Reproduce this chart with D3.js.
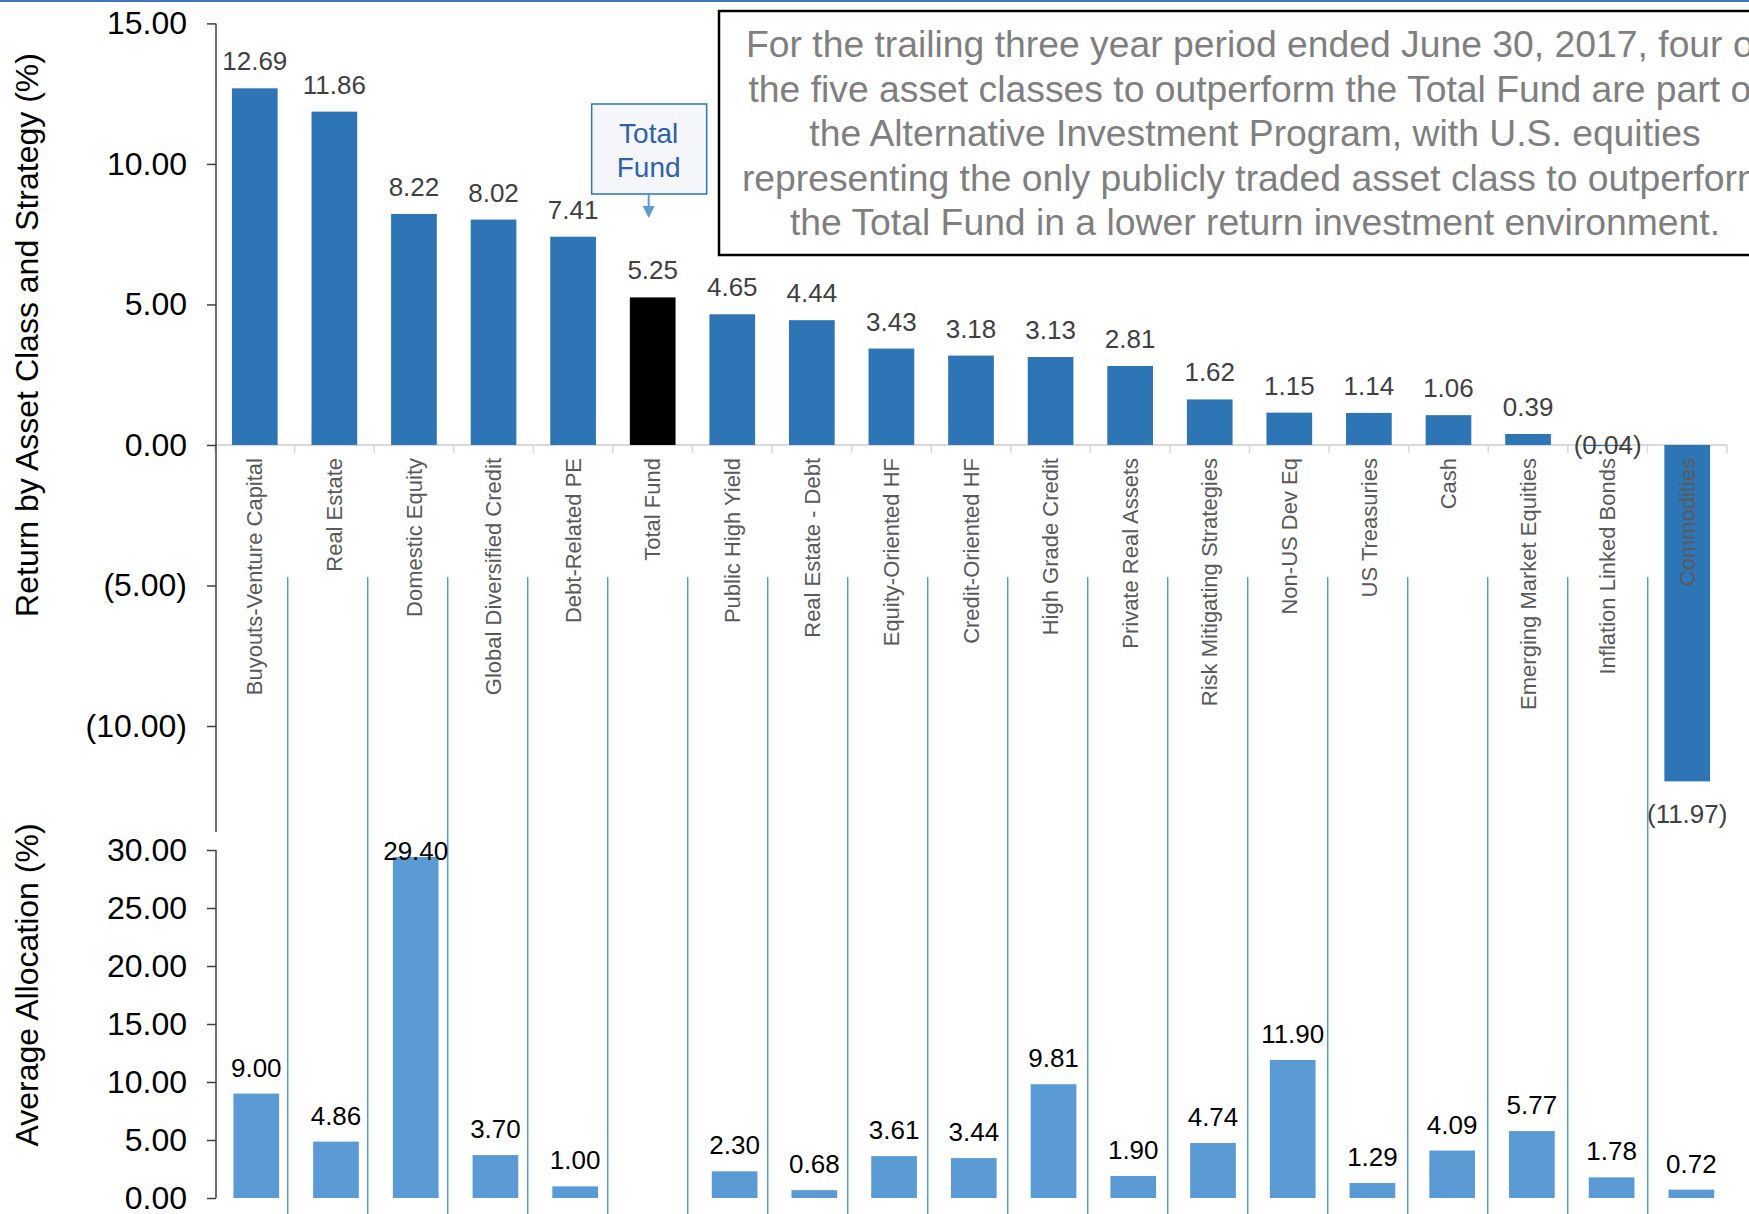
<!DOCTYPE html>
<html>
<head>
<meta charset="utf-8">
<script src="https://cdn.jsdelivr.net/npm/d3@7"></script>
<style>
  body { margin: 0; background: #fff; }
  svg { display: block; font-family: "Liberation Sans", Arial, sans-serif; }
</style>
</head>
<body>
<svg id="chart" width="1749" height="1214"></svg>
<script>
const categories = ["Buyouts-Venture Capital", "Real Estate", "Domestic Equity", "Global Diversified Credit",
  "Debt-Related PE", "Total Fund", "Public High Yield", "Real Estate - Debt", "Equity-Oriented HF",
  "Credit-Oriented HF", "High Grade Credit", "Private Real Assets", "Risk Mitigating Strategies",
  "Non-US Dev Eq", "US Treasuries", "Cash", "Emerging Market Equities", "Inflation Linked Bonds", "Commodities"];
const returns = [12.69, 11.86, 8.22, 8.02, 7.41, 5.25, 4.65, 4.44, 3.43, 3.18, 3.13, 2.81, 1.62, 1.15, 1.14, 1.06, 0.39, -0.04, -11.97];
const allocations = [9.00, 4.86, 29.40, 3.70, 1.00, null, 2.30, 0.68, 3.61, 3.44, 9.81, 1.90, 4.74, 11.90, 1.29, 4.09, 5.77, 1.78, 0.72];
const returnTicks = [15, 10, 5, 0, -5, -10];
const allocTicks = [0, 5, 10, 15, 20, 25, 30];
const noteLines = [
  "For the trailing three year period ended June 30, 2017, four of",
  "the five asset classes to outperform the Total Fund are part of",
  "the Alternative Investment Program, with U.S. equities",
  "representing the only publicly traded asset class to outperform",
  "the Total Fund in a lower return investment environment."
];

const svg = d3.select("#chart");
const fmt = function(v) {
  let s = d3.format(".2f")(Math.abs(v));
  return v < 0 ? "(" + s + ")" : s;
};

// thin rule along the top of the slide
svg.append("line").attr("x1", 0).attr("x2", 1749).attr("y1", 1).attr("y2", 1)
  .attr("stroke", "#4472c4").attr("stroke-width", 2);

// top and bottom panels sit on slightly different category scales
const x = d3.scaleBand().domain(categories).range([215, 1727]);
const xb = d3.scaleBand().domain(categories).range([216.4, 1731.2]);
const xLines = d3.scaleBand().domain(categories).range([207.7, 1727.7]);
const barW = 45.7;
const cx = function(c) { return x(c) + x.bandwidth() / 2; };
const cxb = function(c) { return xb(c) + xb.bandwidth() / 2; };

const yTop = d3.scaleLinear().domain([-10, 15]).range([726, 23.4]);
const yBot = d3.scaleLinear().domain([0, 30]).range([1198, 850]);

// separators for the allocation panel
svg.append("g")
  .selectAll("line")
  .data(categories.slice(1))
  .enter()
  .append("line")
  .attr("x1", function(c) { return xLines(c); })
  .attr("x2", function(c) { return xLines(c); })
  .attr("y1", 577).attr("y2", 1214)
  .attr("stroke", "#5b9bd5").attr("stroke-width", 1.5);

// ---- top panel: returns
let data = categories.map(function(c, i) { return {cat: c, ret: returns[i], alloc: allocations[i]}; });

// category axis at zero
svg.append("line")
  .attr("x1", x.range()[0]).attr("x2", x.range()[1])
  .attr("y1", yTop(0)).attr("y2", yTop(0))
  .attr("stroke", "#d9d9d9").attr("stroke-width", 2);
svg.append("g")
  .selectAll("line")
  .data(d3.range(0, categories.length + 1))
  .enter()
  .append("line")
  .attr("x1", function(k) { return x.range()[0] + k * x.step(); })
  .attr("x2", function(k) { return x.range()[0] + k * x.step(); })
  .attr("y1", yTop(0)).attr("y2", yTop(0) + 8)
  .attr("stroke", "#d9d9d9").attr("stroke-width", 1.5);

svg.append("g")
  .selectAll("rect")
  .data(data)
  .enter()
  .append("rect")
  .attr("x", function(d) { return cx(d.cat) - barW / 2; })
  .attr("width", barW)
  .attr("y", function(d) { return yTop(Math.max(0, d.ret)); })
  .attr("height", function(d) { return Math.abs(yTop(d.ret) - yTop(0)); })
  .attr("fill", function(d) { return d.cat == "Total Fund" ? "#000000" : "#2e75b6"; });

svg.append("g")
  .selectAll("text")
  .data(data)
  .enter()
  .append("text")
  .attr("x", function(d) { return cx(d.cat); })
  .attr("y", function(d) {
    if (d.ret >= 0) return yTop(d.ret) - 18;
    if (d.ret > -1) return yTop(0) + 9;   // tiny negative: label sits on the axis
    return yTop(d.ret) + 42;
  })
  .attr("text-anchor", "middle")
  .attr("font-size", 26)
  .attr("fill", "#404040")
  .text(function(d) { return fmt(d.ret); });

svg.append("g")
  .selectAll("text")
  .data(data)
  .enter()
  .append("text")
  .attr("transform", function(d) { return "translate(" + cx(d.cat) + ",458) rotate(-90)"; })
  .attr("text-anchor", "end")
  .attr("dy", "0.35em")
  .attr("font-size", 22)
  .attr("fill", "#595959")
  .text(function(d) { return d.cat; });

let axTop = svg.append("g").attr("transform", "translate(216,0)")
  .call(d3.axisLeft(yTop).tickValues(returnTicks).tickSize(9).tickPadding(20).tickFormat(fmt));
axTop.select(".domain").remove();
axTop.selectAll(".tick line").attr("stroke", "#404040").attr("stroke-width", 1.5);
axTop.selectAll(".tick text").attr("font-size", 32).attr("fill", "#000").attr("font-family", null);
svg.append("line").attr("x1", 216).attr("x2", 216).attr("y1", yTop(15)).attr("y2", 832)
  .attr("stroke", "#404040").attr("stroke-width", 1.5);

svg.append("text")
  .attr("transform", "translate(38,335) rotate(-90)")
  .attr("text-anchor", "middle")
  .attr("font-size", 32)
  .attr("fill", "#000")
  .text("Return by Asset Class and Strategy (%)");

// ---- bottom panel: allocation
let allocData = data.filter(function(d) { return d.alloc != null; });
svg.append("g")
  .selectAll("rect")
  .data(allocData)
  .enter()
  .append("rect")
  .attr("x", function(d) { return cxb(d.cat) - barW / 2; })
  .attr("width", barW)
  .attr("y", function(d) { return yBot(d.alloc); })
  .attr("height", function(d) { return yBot(0) - yBot(d.alloc); })
  .attr("fill", "#5b9bd5");

svg.append("g")
  .selectAll("text")
  .data(allocData)
  .enter()
  .append("text")
  .attr("x", function(d) { return cxb(d.cat); })
  .attr("y", function(d) { return Math.max(yBot(d.alloc) - 17, yBot(30) + 10); })
  .attr("text-anchor", "middle")
  .attr("font-size", 26)
  .attr("fill", "#000")
  .text(function(d) { return fmt(d.alloc); });

let axBot = svg.append("g").attr("transform", "translate(216,0)")
  .call(d3.axisLeft(yBot).tickValues(allocTicks).tickSize(9).tickPadding(20).tickFormat(fmt));
axBot.select(".domain").attr("stroke", "#404040").attr("stroke-width", 1.5).attr("d", "M0," + yBot(30) + "V" + yBot(0));
axBot.selectAll(".tick line").attr("stroke", "#404040").attr("stroke-width", 1.5);
axBot.selectAll(".tick text").attr("font-size", 32).attr("fill", "#000").attr("font-family", null);

svg.append("text")
  .attr("transform", "translate(38,985) rotate(-90)")
  .attr("text-anchor", "middle")
  .attr("font-size", 32)
  .attr("fill", "#000")
  .text("Average Allocation (%)");

// ---- annotations
let tfx = cx("Total Fund") - 4;
svg.append("rect")
  .attr("x", tfx - 57).attr("y", 104).attr("width", 115).attr("height", 90)
  .attr("fill", "#f4f6f9").attr("stroke", "#2e75b6").attr("stroke-width", 1.5);
svg.append("text").attr("x", tfx).attr("y", 143).attr("text-anchor", "middle")
  .attr("font-size", 28).attr("fill", "#2e62a8").text("Total");
svg.append("text").attr("x", tfx).attr("y", 177).attr("text-anchor", "middle")
  .attr("font-size", 28).attr("fill", "#2e62a8").text("Fund");
svg.append("line").attr("x1", tfx).attr("x2", tfx).attr("y1", 194).attr("y2", 208)
  .attr("stroke", "#5b9bd5").attr("stroke-width", 2);
svg.append("path").attr("d", "M" + (tfx - 6) + ",206L" + (tfx + 6) + ",206L" + tfx + ",218Z")
  .attr("fill", "#5b9bd5");

svg.append("rect")
  .attr("x", 719).attr("y", 11).attr("width", 1100).attr("height", 244)
  .attr("fill", "#fff").attr("stroke", "#000").attr("stroke-width", 2.5);
svg.append("g")
  .selectAll("text")
  .data(noteLines)
  .enter()
  .append("text")
  .attr("x", 1255)
  .attr("y", function(d, i) { return 57 + i * 44.6; })
  .attr("text-anchor", "middle")
  .attr("font-size", 37.3)
  .attr("fill", "#7f7f7f")
  .text(function(d) { return d; });
</script>
</body>
</html>
